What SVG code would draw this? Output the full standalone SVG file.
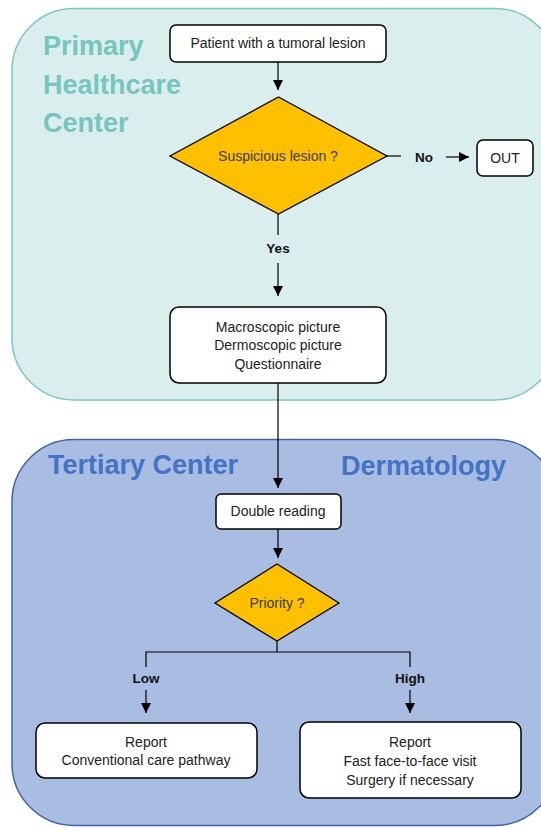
<svg xmlns="http://www.w3.org/2000/svg" width="541" height="827" viewBox="0 0 541 827">
<style>
.box{fill:#fff;stroke:#000;stroke-width:1.5}
.dia{fill:#ffc000;stroke:#000;stroke-width:1.3}
.t{font-family:"Liberation Sans",Arial,sans-serif;font-size:14px;fill:#222;text-anchor:middle}
.td{font-family:"Liberation Sans",Arial,sans-serif;font-size:14px;fill:#3a3a3a;text-anchor:middle}
.lb{font-family:"Liberation Sans",Arial,sans-serif;font-size:13.5px;font-weight:bold;fill:#111;text-anchor:middle}
.title1{font-family:"Liberation Sans",Arial,sans-serif;font-size:27px;font-weight:bold;fill:#76c5be}
.title2{font-family:"Liberation Sans",Arial,sans-serif;font-size:27px;font-weight:bold;fill:#4472c4}
.c{fill:none;stroke:#000;stroke-width:1.2}
</style>
<defs>
<marker id="ah" markerUnits="userSpaceOnUse" markerWidth="10" markerHeight="10" refX="10" refY="5" orient="auto" viewBox="0 0 10 10">
<path d="M0,0 L10,5 L0,10 z" fill="#000"/>
</marker>
</defs>
<g id="region-primary">
<rect x="12" y="8.5" width="545" height="391.5" rx="62" fill="#daeeed" stroke="#7ac7c1" stroke-width="1.5"/>
<text class="title1" x="43" y="55">Primary</text>
<text class="title1" x="43" y="94">Healthcare</text>
<text class="title1" x="43" y="132">Center</text>
</g>
<g id="region-tertiary">
<rect x="12" y="439.5" width="545" height="386" rx="62" fill="#a9bde3" stroke="#3f65a6" stroke-width="1.5"/>
<text class="title2" x="48" y="474">Tertiary Center</text>
<text class="title2" x="341" y="475">Dermatology</text>
</g>
<g id="connectors">
<line class="c" x1="278" y1="62" x2="278" y2="90" marker-end="url(#ah)"/>
<line class="c" x1="387" y1="156" x2="401" y2="156"/>
<line class="c" x1="446" y1="157" x2="469" y2="157" marker-end="url(#ah)"/>
<line class="c" x1="278" y1="214" x2="278" y2="235"/>
<line class="c" x1="278" y1="263" x2="278" y2="296" marker-end="url(#ah)"/>
<line class="c" x1="278" y1="383" x2="278" y2="488" marker-end="url(#ah)"/>
<line class="c" x1="278" y1="529" x2="278" y2="558" marker-end="url(#ah)"/>
<polyline class="c" points="277,641 277,652"/>
<polyline class="c" points="146,667 146,652 410,652 410,667"/>
<line class="c" x1="146" y1="690" x2="146" y2="713" marker-end="url(#ah)"/>
<line class="c" x1="410" y1="690" x2="410" y2="713" marker-end="url(#ah)"/>
<text class="lb" x="424" y="162">No</text>
<text class="lb" x="278" y="253">Yes</text>
<text class="lb" x="146" y="683">Low</text>
<text class="lb" x="410" y="683">High</text>
</g>
<g id="n-patient">
<rect class="box" x="170" y="25" width="216" height="37" rx="6"/>
<text class="t" x="278" y="48">Patient with a tumoral lesion</text>
</g>
<g id="n-suspicious">
<polygon class="dia" points="278.5,97 387,156 278.5,214 170,156"/>
<text class="td" x="278" y="161">Suspicious lesion ?</text>
</g>
<g id="n-out">
<rect class="box" x="477" y="140" width="56" height="36" rx="6"/>
<text class="t" x="505" y="163">OUT</text>
</g>
<g id="n-pictures">
<rect class="box" x="170" y="307" width="216" height="76" rx="9"/>
<text class="t" x="278" y="332">Macroscopic picture</text>
<text class="t" x="278" y="350">Dermoscopic picture</text>
<text class="t" x="278" y="369">Questionnaire</text>
</g>
<g id="n-double">
<rect class="box" x="216" y="494" width="125" height="35" rx="5"/>
<text class="t" x="278" y="516">Double reading</text>
</g>
<g id="n-priority">
<polygon class="dia" points="277,564 339,603 277,641 215,603"/>
<text class="td" x="277" y="608">Priority ?</text>
</g>
<g id="n-low">
<rect class="box" x="36" y="723" width="221" height="55" rx="9"/>
<text class="t" x="146" y="747">Report</text>
<text class="t" x="146" y="765">Conventional care pathway</text>
</g>
<g id="n-high">
<rect class="box" x="300" y="722" width="221" height="76" rx="9"/>
<text class="t" x="410" y="747">Report</text>
<text class="t" x="410" y="766">Fast face-to-face visit</text>
<text class="t" x="410" y="785">Surgery if necessary</text>
</g>
</svg>
